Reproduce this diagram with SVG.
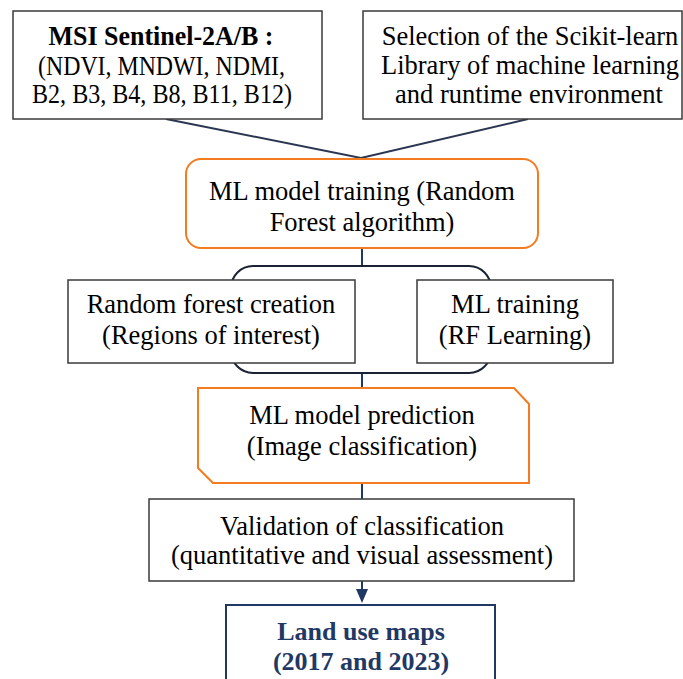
<svg xmlns="http://www.w3.org/2000/svg" width="683" height="679" viewBox="0 0 683 679">
<style>
.t{font-family:"Liberation Serif";font-size:26.5px;fill:#000;text-anchor:middle}
.box{fill:#fff;stroke:#3a3a3a;stroke-width:1.5}
.orange{fill:#fff;stroke:#F47B20;stroke-width:2}
.conn{stroke:#1F3864;stroke-width:2;fill:none}
.navy{fill:#1F3864;font-weight:bold;font-size:26px}
</style>
<rect width="683" height="679" fill="#fff"/>
<g id="connectors">
<path class="conn" d="M166,119 L361,158 L528,119" style="stroke:#2b3750"/>
<line class="conn" x1="362" y1="248" x2="362" y2="267"/>
<line class="conn" x1="362" y1="372" x2="362" y2="389"/>
<line class="conn" x1="362" y1="483" x2="362" y2="499"/>
<line class="conn" x1="362" y1="581" x2="362" y2="590"/>
<path d="M356,589 L368,589 L362,603 Z" fill="#1F3864"/>
</g>
<g id="bracket">
<rect x="231" y="266" width="260" height="107" rx="22" fill="#fff" stroke="#1a2233" stroke-width="2"/>
</g>
<g id="n1">
<rect class="box" x="13" y="11" width="309" height="108"/>
<text class="t" x="161" y="45" font-weight="bold" textLength="225" lengthAdjust="spacingAndGlyphs">MSI Sentinel-2A/B :</text>
<text class="t" x="161.5" y="75" textLength="247" lengthAdjust="spacingAndGlyphs">(NDVI, MNDWI, NDMI,</text>
<text class="t" x="162" y="103" textLength="260" lengthAdjust="spacingAndGlyphs">B2, B3, B4, B8, B11, B12)</text>
</g>
<g id="n2">
<rect class="box" x="363" y="11" width="319" height="108"/>
<text class="t" x="530" y="45">Selection of the Scikit-learn</text>
<text class="t" x="530" y="74">Library of machine learning</text>
<text class="t" x="529" y="103">and runtime environment</text>
</g>
<g id="n3">
<rect class="orange" x="186" y="159" width="352" height="89" rx="15"/>
<text class="t" x="362" y="200">ML model training (Random</text>
<text class="t" x="362" y="231">Forest algorithm)</text>
</g>
<g id="n4">
<rect class="box" x="68" y="280" width="287" height="83"/>
<text class="t" x="211" y="313">Random forest creation</text>
<text class="t" x="211" y="344">(Regions of interest)</text>
</g>
<g id="n5">
<rect class="box" x="417" y="280" width="196" height="83"/>
<text class="t" x="515" y="313">ML training</text>
<text class="t" x="515" y="344">(RF Learning)</text>
</g>
<g id="n6">
<path class="orange" d="M198,388 L514,388 L529,404 L529,483 L213,483 L198,468 Z"/>
<text class="t" x="362" y="424">ML model prediction</text>
<text class="t" x="362" y="455">(Image classification)</text>
</g>
<g id="n7">
<rect class="box" x="149" y="499" width="425" height="82"/>
<text class="t" x="362" y="535">Validation of classification</text>
<text class="t" x="362" y="564">(quantitative and visual assessment)</text>
</g>
<g id="n8">
<rect x="226" y="605" width="269" height="80" fill="#fff" stroke="#1F3864" stroke-width="2"/>
<text class="t navy" x="361" y="640">Land use maps</text>
<text class="t navy" x="361" y="670">(2017 and 2023)</text>
</g>
</svg>
